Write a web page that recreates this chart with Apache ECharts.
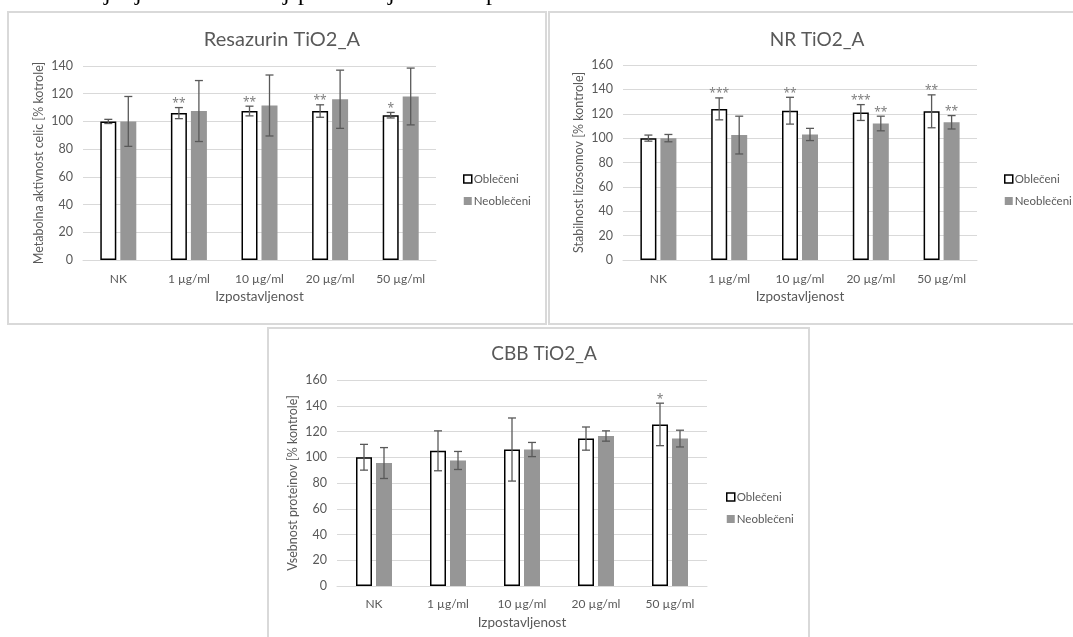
<!DOCTYPE html>
<html lang='sl'>
  <head>
    <meta charset='utf-8'>
    <title>TiO2_A</title>
    <style>
      body { margin: 0; background: #fff; }
      #main { width: 1073px; height: 637px; }
    </style>
  </head>
  <body>
    <div id="main"></div>
    <script src="https://cdn.jsdelivr.net/npm/echarts@6/dist/echarts.min.js"></script>
    <script>
      // skupne kategorije
      var categories = ['NK', '1 µg/ml', '10 µg/ml', '20 µg/ml', '50 µg/ml'];
      var yTicks1 = [0, 140, 20];
      var yTicks23 = [0, 160, 20];

      // Resazurin
      var resObl = [100, 106, 107.5, 107.5, 104.5];
      var resOblErr = [1.5, 4, 3.5, 4.5, 2];
      var resOblSig = ['', '**', '**', '**', '*'];
      var resNeo = [100, 107.5, 111.5, 116, 118];
      var resNeoErr = [18, 22, 22, 21, 20.5];
      var resNeoSig = ['', '', '', '', ''];

      // NR
      var nrObl = [100, 124, 122.5, 121, 122];
      var nrOblErr = [2.5, 9, 11, 6.5, 13.5];
      var nrOblSig = ['', '***', '**', '***', '**'];
      var nrNeo = [100, 102.5, 103, 112, 113];
      var nrNeoErr = [3, 15.5, 5, 6, 5.5];
      var nrNeoSig = ['', '', '', '**', '**'];

      // CBB
      var cbbObl = [100, 105, 106, 114.5, 125.5];
      var cbbOblErr = [10, 15.5, 24.5, 9, 16.5];
      var cbbOblSig = ['', '', '', '', '*'];
      var cbbNeo = [95.5, 97.5, 106, 116.5, 114.5];
      var cbbNeoErr = [12, 7, 5.5, 4, 6.5];
      var cbbNeoSig = ['', '', '', '', ''];

      var FONT = 'Lato';
      var TXT = '#595959';
      var LINE = '#d9d9d9';

      var myChart = echarts.init(document.getElementById('main'));

      function errData(vals, errs) {
        return vals.map(function(v, i) { return [i, v, errs[i]]; });
      }

      // napake + zvezdice
      function errRender(offset, sig) {
        return function(params, api) {
          var c = api.value(0), v = api.value(1), e = api.value(2);
          var hi = api.coord([c, v + e]);
          var lo = api.coord([c, v - e]);
          var x = hi[0] + offset;
          var st = { stroke: '#595959', lineWidth: 1.3 };
          var kids = [
            { type: 'line', shape: { x1: x, y1: hi[1], x2: x, y2: lo[1] }, style: st },
            { type: 'line', shape: { x1: x - 4, y1: hi[1], x2: x + 4, y2: hi[1] }, style: st },
            { type: 'line', shape: { x1: x - 4, y1: lo[1], x2: x + 4, y2: lo[1] }, style: st }
          ];
          var s = sig[params.dataIndex];
          if (s) {
            kids.push({
              type: 'text',
              style: {
                text: s, x: x, y: hi[1] + 2, align: 'center', verticalAlign: 'bottom',
                fill: '#7f7f7f', font: '12px "Noto Sans"'
              }
            });
          }
          return { type: 'group', children: kids };
        };
      }

      function barSeries(idx, name, vals) {
        var obl = name === 'Oblečeni';
        return {
          name: name,
          type: 'bar',
          xAxisIndex: idx,
          yAxisIndex: idx,
          barWidth: 16,
          barGap: '25%',
          data: vals,
          itemStyle: obl ? { color: '#ffffff', borderColor: '#000000', borderWidth: 1.5 }
                         : { color: '#969696' },
          emphasis: { disabled: true }
        };
      }

      function errSeries(idx, vals, errs, offset, sig) {
        return {
          type: 'custom',
          xAxisIndex: idx,
          yAxisIndex: idx,
          z: 5,
          silent: true,
          encode: { x: 0, y: 1 },
          data: errData(vals, errs),
          renderItem: errRender(offset, sig)
        };
      }

      var grids = [
        { left: 83, top: 66, width: 353, height: 194 },
        { left: 623, top: 65, width: 354, height: 195 },
        { left: 337, top: 380, width: 370, height: 206 }
      ];
      var yNames = ['Metabolna aktivnost celic [% kotrole]', 'Stabilnost lizosomov [% kontrole]', 'Vsebnost proteinov [% kontrole]'];
      var xLabelMargin = [13, 13, 12];
      var xNameGap = [30, 30, 30];

      var xAxes = grids.map(function(g, i) {
        return {
          type: 'category',
          gridIndex: i,
          data: categories,
          axisLine: { lineStyle: { color: LINE, width: 1 } },
          axisTick: { show: false },
          axisLabel: { color: TXT, fontFamily: FONT, fontSize: 12, margin: xLabelMargin[i] },
          name: 'Izpostavljenost',
          nameLocation: 'middle',
          nameGap: xNameGap[i],
          nameTextStyle: { color: TXT, fontFamily: FONT, fontSize: 13.5 }
        };
      });

      var yAxes = grids.map(function(g, i) {
        var t = i === 0 ? yTicks1 : yTicks23;
        return {
          type: 'value',
          gridIndex: i,
          min: t[0], max: t[1], interval: t[2],
          axisLine: { show: false },
          axisTick: { show: false },
          splitLine: { lineStyle: { color: LINE, width: 1 } },
          axisLabel: { color: TXT, fontFamily: FONT, fontSize: 12.5, margin: 10 },
          name: yNames[i],
          nameLocation: 'middle',
          nameGap: 38,
          nameTextStyle: { color: TXT, fontFamily: FONT, fontSize: 12.5 }
        };
      });

      var legendData = [
        { name: 'Oblečeni', itemStyle: { color: '#ffffff', borderColor: '#000000', borderWidth: 1.5 } },
        { name: 'Neoblečeni', itemStyle: { color: '#969696' } }
      ];
      var legendPos = [[458, 168], [999, 168], [721, 486]];
      var legends = legendPos.map(function(p) {
        return {
          left: p[0], top: p[1], orient: 'vertical',
          itemWidth: 8, itemHeight: 8, itemGap: 10,
          icon: 'rect',
          selectedMode: false,
          data: legendData,
          textStyle: { color: TXT, fontFamily: FONT, fontSize: 11.5, padding: [0, 0, 0, -3] }
        };
      });

      var titles = [
        { text: 'Resazurin TiO2_A', left: 277, top: 38, size: 20 },
        { text: 'NR TiO2_A', left: 812, top: 38, size: 19 },
        { text: 'CBB TiO2_A', left: 539, top: 352, size: 19 }
      ].map(function(t) {
        return {
          text: t.text, left: t.left, top: t.top - 13, textAlign: 'center',
          textStyle: { color: TXT, fontFamily: FONT, fontSize: t.size, fontWeight: 'normal' }
        };
      });

      var series = [
        barSeries(0, 'Oblečeni', resObl), barSeries(0, 'Neoblečeni', resNeo),
        errSeries(0, resObl, resOblErr, -10, resOblSig), errSeries(0, resNeo, resNeoErr, 10, resNeoSig),
        barSeries(1, 'Oblečeni', nrObl), barSeries(1, 'Neoblečeni', nrNeo),
        errSeries(1, nrObl, nrOblErr, -10, nrOblSig), errSeries(1, nrNeo, nrNeoErr, 10, nrNeoSig),
        barSeries(2, 'Oblečeni', cbbObl), barSeries(2, 'Neoblečeni', cbbNeo),
        errSeries(2, cbbObl, cbbOblErr, -10, cbbOblSig), errSeries(2, cbbNeo, cbbNeoErr, 10, cbbNeoSig)
      ];

      // okvirji
      var frames = [
        { x: 8, y: 12, width: 538, height: 312 },
        { x: 549, y: 12, width: 530, height: 312 },
        { x: 268, y: 328, width: 541, height: 320 }
      ].map(function(r) {
        return { type: 'rect', shape: r, style: { fill: 'none', stroke: LINE, lineWidth: 2 }, silent: true, z: -1 };
      });

      // odrezana vrstica besedila nad grafi
      var cutGlyphs = [['j', 104], ['j', 135], ['j', 283], ['p', 298], ['j', 388], ['p', 486]];
      cutGlyphs.forEach(function(g) {
        frames.push({
          type: 'text', left: g[1], top: -18, silent: true,
          style: { text: g[0], fill: '#000', font: '24px "Liberation Serif"' }
        });
      });

      var option = {
        backgroundColor: '#fff',
        animation: false,
        title: titles,
        legend: legends,
        grid: grids,
        xAxis: xAxes,
        yAxis: yAxes,
        series: series,
        graphic: frames
      };

      myChart.setOption(option);
    </script>
  </body>
</html>
